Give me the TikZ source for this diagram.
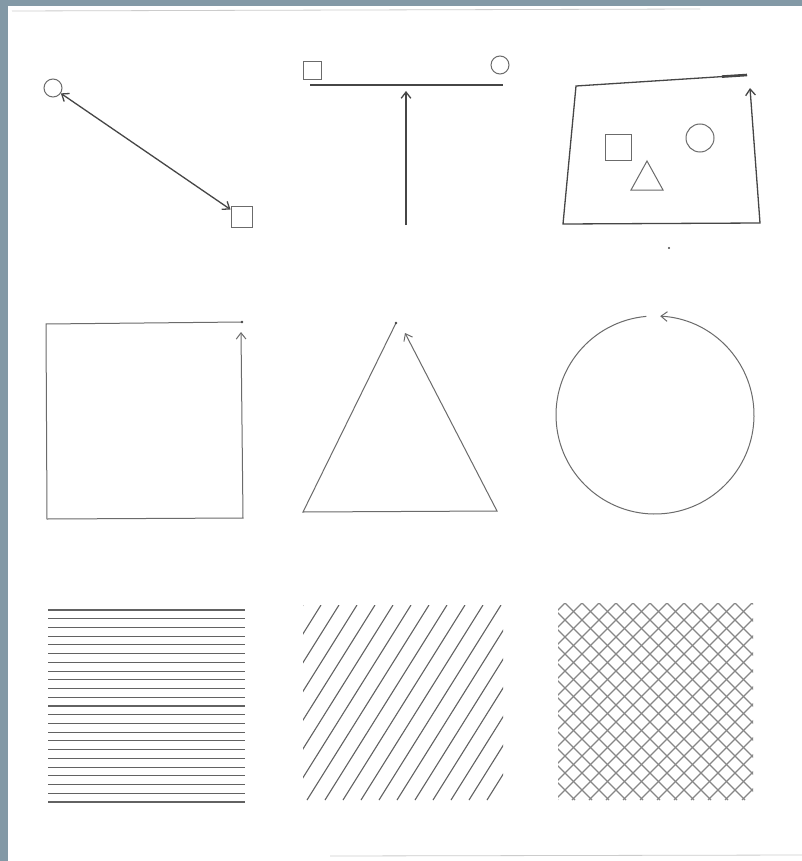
\documentclass[tikz,border=0pt]{standalone}
\usepackage{tikz}
\usetikzlibrary{arrows.meta}
\definecolor{scanbg}{RGB}{131,153,166}
\definecolor{pencil}{RGB}{70,70,70}

\begin{document}
\begin{tikzpicture}[x=1pt,y=-1pt,line width=1.3pt,>={Straight Barb[length=2.2mm,width=3.4mm]},
  pen/.style={draw=pencil,line width=1.3pt},
  thin pen/.style={draw=pencil!80,line width=1pt},
  hatch/.style={draw=pencil!85,line width=1.1pt},
  blob/.style={draw=pencil!80,line width=1pt,inner sep=0pt}]
  \useasboundingbox (0,0) rectangle (802,861);
  \fill[scanbg] (0,0) rectangle (802,861);
  \fill[white] (8,6) rectangle (802,861);
  \draw[black!20,line width=0.8pt] (12,11)--(700,9);
  \draw[black!20,line width=0.8pt] (330,856)--(802,855);
  % segment with two ends
  \node[blob,circle,minimum size=18pt] (c1) at (53,88){};
  \node[blob,minimum size=21pt] (s1) at (241.5,217){};
  \draw[pen,<->] (c1)--(s1);
  % segment and perpendicular arrow
  \node[blob,minimum size=18pt] (s2) at (312,71){};
  \node[blob,circle,minimum size=18pt] (c2) at (500,65){};
  \coordinate (l2) at (310,85); \coordinate (r2) at (503,85);
  \draw[pen] (l2)--(r2);
  \coordinate (b2) at (406,225); \coordinate (t2) at (406,91);
  \draw[pen,->] (b2)--(t2);
  % frame with small shapes
  \draw[pen,->] (747,75)--(576,86)--(563,224)--(760,223)--(750,88);
  \draw[pencil,line width=2.6pt] (722,76.6)--(747,75);
  \node[blob,minimum size=26pt] (s3) at (618,148){};
  \node[blob,circle,minimum size=28pt] (c3) at (700,138){};
  \draw[thin pen] (631,190)--(663,190)--(647,161)--cycle;
  \fill[pencil] (669,248) circle (1.2);
  % square
  \draw[thin pen,->] (242,322)--(46,324)--(47,519)--(243,518)--(241,332);
  \fill[pencil] (242,322) circle (1.4);
  % triangle
  \draw[thin pen,->] (396,323)--(303,512)--(497,511)--(405,333);
  \fill[pencil] (396,323) circle (1.4);
  % circle
  \draw[thin pen,->] (655,415) ++(265:99) arc[start angle=265,end angle=-87,radius=99];
  % horizontal hatching
  \foreach \i in {0,...,22}
    \draw[hatch] (48,610+\i*8.727)--(245,610+\i*8.727);
  % oblique hatching
  \begin{scope}
    \clip (303,605) rectangle (503,800);
    \foreach \k in {-7,...,10}
      \draw[hatch] (307+\k*18,800)--++(122,-195);
  \end{scope}
  % cross hatching
  \begin{scope}
    \clip (558,603) rectangle (753,800);
    \foreach \k in {-12,...,24}{
      \draw[hatch,draw=pencil!65] (565+\k*17,603)--++(197,197);
      \draw[hatch,draw=pencil!65] (565+\k*17,603)--++(-197,197);
    }
  \end{scope}
\end{tikzpicture}
\end{document}
